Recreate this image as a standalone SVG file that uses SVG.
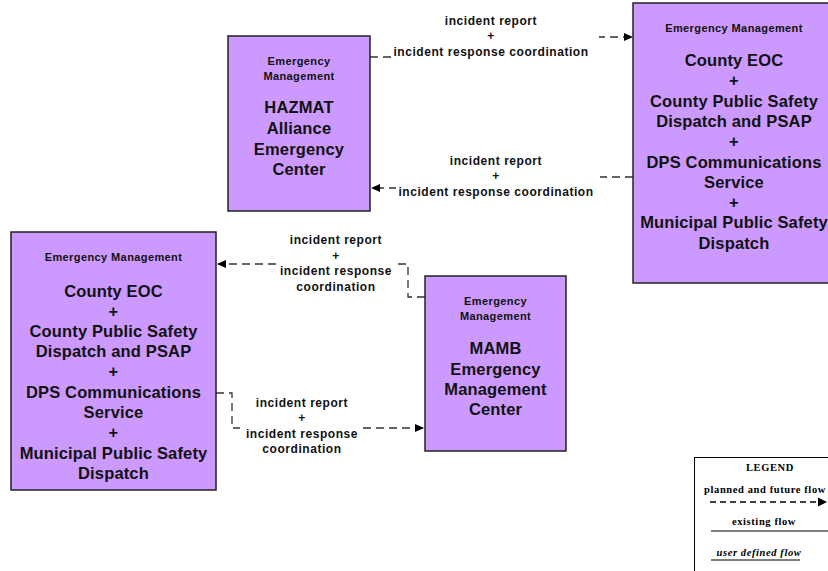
<svg xmlns="http://www.w3.org/2000/svg" width="828" height="571" viewBox="0 0 828 571">
<defs>
<marker id="arr" markerWidth="9" markerHeight="8" refX="8" refY="4" orient="auto" markerUnits="userSpaceOnUse">
<path d="M0,0 L9,4 L0,8 Z" fill="#000"/>
</marker>
<style>
.box{fill:#CC99FF;stroke:#222;stroke-width:1.5}
.sm{font-family:"Liberation Sans",Arial,sans-serif;font-weight:bold;font-size:11px;letter-spacing:0.4px;fill:#111;text-anchor:middle}
.big{font-family:"Liberation Sans",Arial,sans-serif;font-weight:bold;font-size:16.5px;letter-spacing:0.15px;fill:#111;text-anchor:middle}
.lbl{font-family:"Liberation Sans",Arial,sans-serif;font-weight:bold;font-size:12px;letter-spacing:0.55px;fill:#111;text-anchor:middle}
.flow{fill:none;stroke:#333;stroke-width:1.3;stroke-dasharray:8,5}
.bg{fill:#fff}
.lg{font-family:"Liberation Serif","Times New Roman",serif;font-weight:bold;font-size:10.5px;letter-spacing:0.6px;fill:#000;text-anchor:middle}
</style>
</defs>
<rect width="828" height="571" fill="#fff"/>

<g id="connectors">
<path class="flow" d="M370,57 L598,57 L598,37 L632,37" marker-end="url(#arr)"/>
<path class="flow" d="M633,177 L598,177 L598,188 L372,188" marker-end="url(#arr)"/>
<path class="flow" d="M425,297 L408,297 L408,264 L218,264" marker-end="url(#arr)"/>
<path class="flow" d="M216,393 L232,393 L232,428 L423,428" marker-end="url(#arr)"/>
<g id="label1">
<rect class="bg" x="393" y="10" width="206" height="54"/>
<text class="lbl" x="491" y="24.5">incident report</text>
<text class="lbl" x="491" y="40">+</text>
<text class="lbl" x="491" y="55.5">incident response coordination</text>
</g>
<g id="label2">
<rect class="bg" x="396" y="150" width="204" height="50"/>
<text class="lbl" x="496" y="164.5">incident report</text>
<text class="lbl" x="496" y="180">+</text>
<text class="lbl" x="496" y="195.5">incident response coordination</text>
</g>
<g id="label3">
<rect class="bg" x="280" y="229" width="114" height="66"/>
<text class="lbl" x="336" y="244">incident report</text>
<text class="lbl" x="336" y="259.5">+</text>
<text class="lbl" x="336" y="275">incident response</text>
<text class="lbl" x="336" y="290.5">coordination</text>
</g>
<g id="label4">
<rect class="bg" x="240" y="392" width="119" height="66"/>
<text class="lbl" x="302" y="406.5">incident report</text>
<text class="lbl" x="302" y="422">+</text>
<text class="lbl" x="302" y="437.5">incident response</text>
<text class="lbl" x="302" y="453">coordination</text>
</g>
</g>

<g id="hazmat">
<rect class="box" x="228" y="36" width="142" height="175"/>
<text class="sm" x="299" y="65">Emergency</text>
<text class="sm" x="299" y="80">Management</text>
<text class="big" x="299" y="113">HAZMAT</text>
<text class="big" x="299" y="134">Alliance</text>
<text class="big" x="299" y="155">Emergency</text>
<text class="big" x="299" y="175">Center</text>
</g>

<g id="county-top">
<rect class="box" x="633" y="3" width="202" height="280"/>
<text class="sm" x="734" y="32">Emergency Management</text>
<text class="big" x="734" y="66">County EOC</text>
<text class="big" x="734" y="86">+</text>
<text class="big" x="734" y="107">County Public Safety</text>
<text class="big" x="734" y="127">Dispatch and PSAP</text>
<text class="big" x="734" y="147">+</text>
<text class="big" x="734" y="168">DPS Communications</text>
<text class="big" x="734" y="188">Service</text>
<text class="big" x="734" y="208">+</text>
<text class="big" x="734" y="228">Municipal Public Safety</text>
<text class="big" x="734" y="249">Dispatch</text>
</g>

<g id="county-left">
<rect class="box" x="11" y="232" width="205" height="258"/>
<text class="sm" x="113.5" y="261">Emergency Management</text>
<text class="big" x="113.5" y="297">County EOC</text>
<text class="big" x="113.5" y="317">+</text>
<text class="big" x="113.5" y="337">County Public Safety</text>
<text class="big" x="113.5" y="357">Dispatch and PSAP</text>
<text class="big" x="113.5" y="377">+</text>
<text class="big" x="113.5" y="398">DPS Communications</text>
<text class="big" x="113.5" y="418">Service</text>
<text class="big" x="113.5" y="438">+</text>
<text class="big" x="113.5" y="459">Municipal Public Safety</text>
<text class="big" x="113.5" y="479">Dispatch</text>
</g>

<g id="mamb">
<rect class="box" x="425" y="276" width="141" height="175"/>
<text class="sm" x="495.5" y="305">Emergency</text>
<text class="sm" x="495.5" y="320">Management</text>
<text class="big" x="495.5" y="354">MAMB</text>
<text class="big" x="495.5" y="375">Emergency</text>
<text class="big" x="495.5" y="395">Management</text>
<text class="big" x="495.5" y="415">Center</text>
</g>

<g id="legend">
<rect x="694.5" y="457.5" width="140" height="120" fill="#fff" stroke="#000" stroke-width="1"/>
<text class="lg" x="770" y="471">LEGEND</text>
<text class="lg" x="765" y="493">planned and future flow</text>
<path d="M710,502 L818,502" stroke="#000" stroke-width="1.3" stroke-dasharray="6,4" fill="none"/>
<path d="M818,497.5 L827,502 L818,506.5 Z" fill="#000"/>
<text class="lg" x="764" y="525">existing flow</text>
<path d="M711,531 L828,531" stroke="#000" stroke-width="1.2"/>
<text class="lg" x="759" y="556" font-style="italic">user defined flow</text>
<path d="M711,560 L800,560" stroke="#000" stroke-width="1.2"/>
</g>
</svg>
